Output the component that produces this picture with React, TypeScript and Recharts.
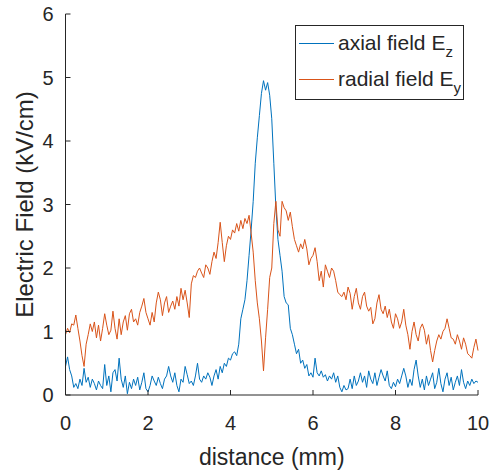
import React from "react";
import { LineChart, Line, XAxis, YAxis, Label } from "recharts";

// sampled every 0.05 mm from 0 to 10 mm
const STEP = 0.05;

const axialField = [
  0.45, 0.6, 0.4, 0.3, 0.12, 0.18, 0.1, 0.25, 0.15, 0.42, 0.2, 0.28, 0.12, 0.25, 0.18, 0.08, 0.22, 0.15, 0.1, 0.48,
  0.15, 0.3, 0.05, 0.35, 0.4, 0.22, 0.58, 0.25, 0.12, 0.3, 0.02, 0.2, 0.1, 0.25, 0.15, 0.28, 0.08, 0.2, 0.35, 0.1,
  0.05, 0.15, 0.3, 0.22, 0.15, 0.28, 0.18, 0.1, 0.25, 0.3, 0.45, 0.3, 0.2, 0.35, 0.15, 0.05, 0.25, 0.2, 0.45, 0.32,
  0.18, 0.22, 0.15, 0.3, 0.5, 0.25, 0.2, 0.3, 0.25, 0.35, 0.28, 0.15, 0.3, 0.4, 0.25, 0.45, 0.35, 0.5, 0.45, 0.58,
  0.55, 0.65, 0.68, 0.62, 0.8, 1.2, 1.35, 1.5, 1.8, 2.2, 2.6, 3.05, 3.65, 4.05, 4.4, 4.75, 4.95, 4.8, 4.92, 4.72,
  4.35, 3.65, 2.95, 2.45, 2.2, 1.95, 1.55, 1.45, 1.42, 1.05, 0.95, 0.8, 0.65, 0.72, 0.5, 0.55, 0.42, 0.48, 0.3, 0.35,
  0.28, 0.58, 0.35, 0.3, 0.38, 0.28, 0.32, 0.22, 0.3, 0.25, 0.35, 0.2, 0.3, 0.12, 0.05, 0.15, 0.08, 0.1, 0.25, 0.1,
  0.3, 0.15, 0.22, 0.35, 0.2, 0.3, 0.12, 0.38, 0.25, 0.18, 0.35, 0.15, 0.28, 0.4, 0.3, 0.22, 0.38, 0.15, 0.1, 0.2,
  0.13, 0.25, 0.18, 0.3, 0.42, 0.3, 0.12, 0.25, 0.15, 0.4, 0.55, 0.3, 0.12, 0.25, 0.08, 0.3, 0.15, 0.25, 0.35, 0.1,
  0.2, 0.42, 0.18, 0.05, 0.25, 0.35, 0.15, 0.28, 0.08, 0.2, 0.3, 0.15, 0.4, 0.2, 0.1, 0.22, 0.15, 0.25, 0.18, 0.22,
  0.2,
];

const radialField = [
  0.95, 1.05, 0.98, 1.12, 1.1, 1.26, 1.05, 0.85, 0.62, 0.45, 0.8, 0.95, 1.12, 1.0, 1.15, 0.9, 1.1, 0.85, 1.05, 1.28,
  1.1, 0.95, 1.02, 1.32, 1.05, 0.88, 1.2, 0.95, 1.15, 1.25, 1.02, 1.28, 1.35, 1.15, 1.2, 1.1, 1.3, 1.4, 1.52, 1.3,
  1.2, 1.1, 1.3, 1.15, 1.45, 1.62, 1.5, 1.25, 1.45, 1.55, 1.3, 1.4, 1.48, 1.35, 1.55, 1.4, 1.68, 1.5, 1.65, 1.45,
  1.22, 1.75, 1.88, 1.85, 1.95, 2.0, 1.92, 1.85, 2.05, 2.0, 1.9, 2.1, 2.25, 2.15, 2.4, 2.72, 2.4, 2.1, 2.35, 2.5,
  2.45, 2.6, 2.55, 2.7, 2.58, 2.75, 2.62, 2.78, 2.7, 2.83, 2.55, 2.25, 1.8, 1.45, 1.2, 0.85, 0.38, 0.9, 1.35, 1.85,
  2.0, 2.7, 3.05, 2.6, 2.5, 3.05, 2.95, 2.9, 2.75, 2.88, 2.65, 2.45, 2.35, 2.25, 2.38, 2.3, 2.45, 2.3, 2.05, 2.15,
  2.2, 2.32, 2.1, 1.8, 1.95, 1.7, 2.05, 1.95, 1.85, 2.0, 1.95, 1.8, 1.62, 1.58, 1.55, 1.62, 1.5, 1.7, 1.6, 1.35,
  1.55, 1.68, 1.45, 1.35, 1.55, 1.62, 1.4, 1.32, 1.38, 1.12, 1.2, 1.45, 1.58, 1.35, 1.28, 1.4, 1.22, 1.35, 1.15, 1.05,
  1.28, 1.2, 1.05, 1.15, 1.35, 1.1, 0.95, 0.72, 1.0, 1.15, 0.95, 0.85, 1.05, 1.12, 1.02, 0.8, 0.95, 0.7, 0.52, 0.7,
  0.85, 0.95, 0.88, 1.0, 1.05, 1.2, 1.05, 0.9, 0.88, 0.8, 0.95, 0.85, 0.72, 0.9, 0.8, 0.65, 0.62, 0.58, 0.75, 0.88,
  0.7,
];

const xTicks = [0, 2, 4, 6, 8, 10];
const yTicks = [0, 1, 2, 3, 4, 5, 6];

const data = axialField.map((v, i) => ({
  x: Math.round(i * STEP * 100) / 100,
  axial: v,
  radial: radialField[i],
}));

const INK = "#262626";
const FONT = "'Liberation Sans', Arial, sans-serif";

const BottomTick = (props: any) => {
  const { x, y, payload } = props;
  return (
    <g>
      <line x1={x} x2={x} y1={y} y2={y - 5} stroke={INK} />
      <text x={x} y={y + 28} textAnchor="middle" dominantBaseline="central" fontSize={20} fill={INK} fontFamily={FONT}>
        {payload.value}
      </text>
    </g>
  );
};

const TopTick = (props: any) => {
  const { x, y } = props;
  return <line x1={x} x2={x} y1={y} y2={y + 5} stroke={INK} />;
};

const LeftTick = (props: any) => {
  const { x, y, payload } = props;
  return (
    <g>
      <line x1={x} x2={x + 5} y1={y} y2={y} stroke={INK} />
      <text x={x - 12} y={y} textAnchor="end" dominantBaseline="central" fontSize={20} fill={INK} fontFamily={FONT}>
        {payload.value}
      </text>
    </g>
  );
};

const RightTick = (props: any) => {
  const { x, y } = props;
  return <line x1={x} x2={x - 5} y1={y} y2={y} stroke={INK} />;
};

const legendText = { position: "absolute" as const, left: 42, fontSize: 21, color: INK, fontFamily: FONT, lineHeight: "22px", whiteSpace: "nowrap" as const };
const sub = { fontSize: 15, position: "relative" as const, top: 7 };

export default function App() {
  return (
    <div style={{ position: "absolute", left: 0, top: 0, width: 491, height: 470, background: "#fff" }}>
      <LineChart width={491} height={470} data={data} margin={{ top: 14, right: 13, bottom: 0, left: 0 }}>
        <XAxis
          dataKey="x"
          type="number"
          domain={[0, 10]}
          ticks={xTicks}
          height={75}
          tickSize={0}
          tickMargin={0}
          tickLine={false}
          tick={<BottomTick />}
          stroke={INK}
        >
          <Label value="distance (mm)" position="insideBottom" offset={5} fontSize={23} fill={INK} fontFamily={FONT} />
        </XAxis>
        <XAxis
          xAxisId="top"
          orientation="top"
          dataKey="x"
          type="number"
          domain={[0, 10]}
          ticks={xTicks}
          height={0}
          tickSize={0}
          tickMargin={0}
          tickLine={false}
          tick={<TopTick />}
          stroke={INK}
        />
        <YAxis
          type="number"
          domain={[0, 6]}
          ticks={yTicks}
          width={65.5}
          tickSize={0}
          tickMargin={0}
          tickLine={false}
          tick={<LeftTick />}
          stroke={INK}
        >
          <Label
            value="Electric Field (kV/cm)"
            angle={-90}
            position="insideLeft"
            offset={24}
            style={{ textAnchor: "middle" }}
            fontSize={24}
            fill={INK}
            fontFamily={FONT}
          />
        </YAxis>
        <YAxis
          yAxisId="right"
          orientation="right"
          type="number"
          domain={[0, 6]}
          ticks={yTicks}
          width={0}
          tickSize={0}
          tickMargin={0}
          tickLine={false}
          tick={<RightTick />}
          stroke={INK}
        />
        <Line dataKey="axial" type="linear" stroke="#0072BD" strokeWidth={1} dot={false} isAnimationActive={false} />
        <Line dataKey="radial" type="linear" stroke="#D95319" strokeWidth={1} dot={false} isAnimationActive={false} />
      </LineChart>
      <div
        style={{
          position: "absolute",
          left: 295,
          top: 25,
          width: 167,
          height: 73,
          border: `1px solid ${INK}`,
          background: "#fff",
        }}
      >
        <div style={{ position: "absolute", left: 3, top: 17, width: 35, height: 1, background: "#0072BD" }} />
        <div style={{ ...legendText, top: 6 }}>
          axial field E<span style={sub}>z</span>
        </div>
        <div style={{ position: "absolute", left: 3, top: 53, width: 35, height: 1, background: "#D95319" }} />
        <div style={{ ...legendText, top: 42 }}>
          radial field E<span style={sub}>y</span>
        </div>
      </div>
    </div>
  );
}
